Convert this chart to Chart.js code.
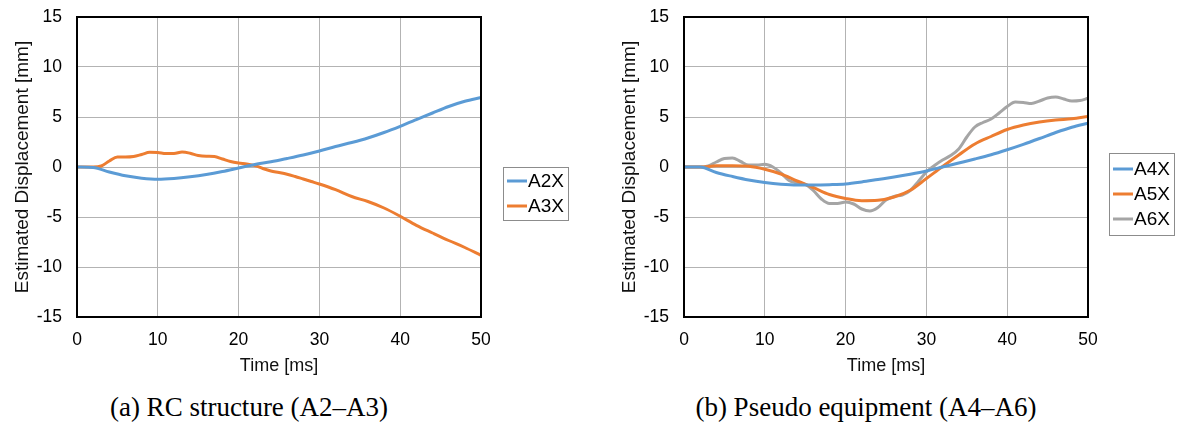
<!DOCTYPE html>
<html>
<head>
<meta charset="utf-8">
<script src="https://cdn.jsdelivr.net/npm/chart.js@4/dist/chart.umd.min.js"></script>
<style>
  body { margin: 0; background: #fff; width: 1177px; height: 427px; position: relative; overflow: hidden; }
  .panel { position: absolute; top: 0; height: 380px; }
  .panel canvas { display: block; }
  .caption {
    position: absolute; top: 391px; width: 420px; margin-left: -210px;
    text-align: center; font-family: "Liberation Serif", "Times New Roman", serif;
    font-size: 27px; line-height: 32px; color: #000;
  }
</style>
</head>
<body>
<div class="panel" style="left:0;width:585px"><canvas id="chart-a" width="585" height="380"></canvas></div>
<div class="panel" style="left:607px;width:570px"><canvas id="chart-b" width="570" height="380"></canvas></div>
<div class="caption" style="left:249px">(a) RC structure (A2–A3)</div>
<div class="caption" style="left:866px">(b) Pseudo equipment (A4–A6)</div>
<script>
// Time axis and displacement records [ms, mm]
const xTicks = [0, 10, 20, 30, 40, 50];
const yTicks = [-15, -10, -5, 0, 5, 10, 15];

const time2ms = [0, 2, 4, 6, 8, 10, 12, 14, 16, 18, 20, 22, 24, 26, 28, 30, 32, 34, 36, 38, 40, 42, 44, 46, 48, 50];
const time1ms = [0, 1, 2, 3, 4, 5, 6, 7, 8, 9, 10, 11, 12, 13, 14, 15, 16, 17, 18, 19, 20, 21, 22, 23, 24, 25,
                 26, 27, 28, 29, 30, 31, 32, 33, 34, 35, 36, 37, 38, 39, 40, 41, 42, 43, 44, 45, 46, 47, 48, 49, 50];
const timeA3 = [0, 1, 2, 3, 4, 5, 6, 7, 8, 9, 10, 11, 12, 13, 14, 15, 16, 17, 18, 19, 20, 21, 22, 23, 24, 25,
                26, 27, 28, 29, 30, 32, 34, 36, 38, 40, 42, 44, 46, 48, 50];

// (a) RC structure
const a2x = [0, -0.05, -0.5, -0.88, -1.12, -1.23, -1.15, -0.98, -0.75, -0.45, -0.1, 0.25, 0.52, 0.85, 1.2, 1.6,
             2.05, 2.45, 2.9, 3.45, 4.07, 4.73, 5.4, 6.05, 6.57, 6.95];
const a3x = [0, 0, 0, 0.1, 0.6, 1.0, 1.0, 1.05, 1.25, 1.47, 1.45, 1.35, 1.35, 1.5, 1.38, 1.15, 1.07, 1.05, 0.8,
             0.55, 0.4, 0.3, 0.15, -0.15, -0.4, -0.55, -0.72, -0.95, -1.2, -1.45, -1.7,
             -2.27, -2.95, -3.45, -4.1, -4.93, -5.83, -6.6, -7.35, -8.05, -8.83];

// (b) Pseudo equipment
const a4x = [0, 0, -0.55, -0.95, -1.3, -1.55, -1.72, -1.8, -1.8, -1.77, -1.7, -1.5, -1.25, -1.0, -0.72, -0.4,
             0.0, 0.4, 0.8, 1.23, 1.73, 2.27, 2.85, 3.45, 3.98, 4.38];
const a5x = [0, 0, 0.12, 0.13, 0.08, -0.22, -0.7, -1.4, -2.05, -2.75, -3.15, -3.37, -3.33, -3.0, -2.33, -1.15,
             0.05, 1.2, 2.3, 3.05, 3.75, 4.2, 4.5, 4.7, 4.83, 5.05];
const a6x = [0, 0, 0, 0.1, 0.5, 0.85, 0.9, 0.55, 0.2, 0.2, 0.27, 0, -0.6, -1.35, -1.6, -1.75, -2.35, -3.2, -3.65,
             -3.65, -3.5, -3.7, -4.2, -4.4, -4.05, -3.3, -2.95, -2.8, -2.35, -1.45, -0.5, 0.15, 0.7, 1.15, 1.8,
             3.0, 4.0, 4.45, 4.8, 5.4, 6.05, 6.5, 6.45, 6.35, 6.6, 6.9, 7.0, 6.8, 6.6, 6.65, 6.87];

const BLUE = '#5b9bd5', ORANGE = '#ed7d31', GRAY = '#a5a5a5';
const AXIS_FONT = 'Liberation Sans, Arial, sans-serif';

function points(xs, ys) {
    return xs.map((x, i) => ({ x: x, y: ys[i] }));
}

function series(label, xs, ys, color) {
    return {
        label: label,
        data: points(xs, ys),
        borderColor: color,
        backgroundColor: color,
        borderWidth: 3,
        pointRadius: 0,
        cubicInterpolationMode: 'monotone',
        clip: false
    };
}

// Black frame round the plot area plus a boxed legend to the right
const frameAndLegend = {
    id: 'frameAndLegend',
    afterDraw(chart, args, opts) {
        const ctx = chart.ctx;
        const a = chart.chartArea;
        ctx.save();
        ctx.strokeStyle = '#000';
        ctx.lineWidth = 2;
        ctx.strokeRect(a.left, a.top, a.right - a.left, a.bottom - a.top);

        const sets = chart.data.datasets;
        const h = opts.pad * 2 + opts.rowH * (sets.length - 1);
        ctx.strokeStyle = '#8c8c8c';
        ctx.lineWidth = 1;
        ctx.strokeRect(opts.x + 0.5, opts.y + 0.5, opts.w, h);
        ctx.font = '19px ' + AXIS_FONT;
        ctx.textBaseline = 'middle';
        ctx.fillStyle = '#000';
        sets.forEach((ds, i) => {
            const cy = opts.y + opts.pad + i * opts.rowH;
            ctx.strokeStyle = ds.borderColor;
            ctx.lineWidth = 3;
            ctx.beginPath();
            ctx.moveTo(opts.x + 4, cy);
            ctx.lineTo(opts.x + 24, cy);
            ctx.stroke();
            ctx.fillText(ds.label, opts.x + 25, cy + 1);
        });
        ctx.restore();
    }
};

function makeChart(id, datasets, rightPad, legendBox) {
    return new Chart(document.getElementById(id), {
        type: 'line',
        data: { datasets: datasets },
        options: {
            responsive: false,
            animation: false,
            layout: { padding: { top: 17, right: rightPad, left: 0, bottom: 0 } },
            plugins: {
                legend: { display: false },
                tooltip: { enabled: false },
                frameAndLegend: legendBox
            },
            scales: {
                x: {
                    type: 'linear',
                    min: 0, max: 50,
                    afterBuildTicks: s => { s.ticks = xTicks.map(v => ({ value: v })); },
                    afterFit: s => { s.height = 63; s.paddingLeft = 0; s.paddingRight = 0; },
                    grid: { color: '#b3b3b3', lineWidth: 1, drawTicks: false },
                    border: { display: false },
                    ticks: { color: '#000', padding: 13, maxRotation: 0, font: { family: AXIS_FONT, size: 17.5 } },
                    title: { display: true, text: 'Time [ms]', color: '#111', padding: { top: 0, bottom: 3 },
                             font: { family: AXIS_FONT, size: 18 } }
                },
                y: {
                    min: -15, max: 15,
                    afterBuildTicks: s => { s.ticks = yTicks.map(v => ({ value: v })); },
                    afterFit: s => { s.width = 77; s.paddingTop = 0; s.paddingBottom = 0; },
                    grid: { color: '#b3b3b3', lineWidth: 1, drawTicks: false },
                    border: { display: false },
                    ticks: { color: '#000', padding: 15, font: { family: AXIS_FONT, size: 17.5 } },
                    title: { display: true, text: 'Estimated Displacement [mm]', color: '#111',
                             padding: { top: 11, bottom: 0 }, font: { family: AXIS_FONT, size: 19 } }
                }
            }
        },
        plugins: [frameAndLegend]
    });
}

makeChart('chart-a', [
    series('A2X', time2ms, a2x, BLUE),
    series('A3X', timeA3, a3x, ORANGE)
], 104, { x: 503, y: 167, w: 65, rowH: 25, pad: 14 });

makeChart('chart-b', [
    series('A4X', time2ms, a4x, BLUE),
    series('A5X', time2ms, a5x, ORANGE),
    series('A6X', time1ms, a6x, GRAY)
], 89, { x: 502, y: 153, w: 65, rowH: 25, pad: 16 });
</script>
</body>
</html>
